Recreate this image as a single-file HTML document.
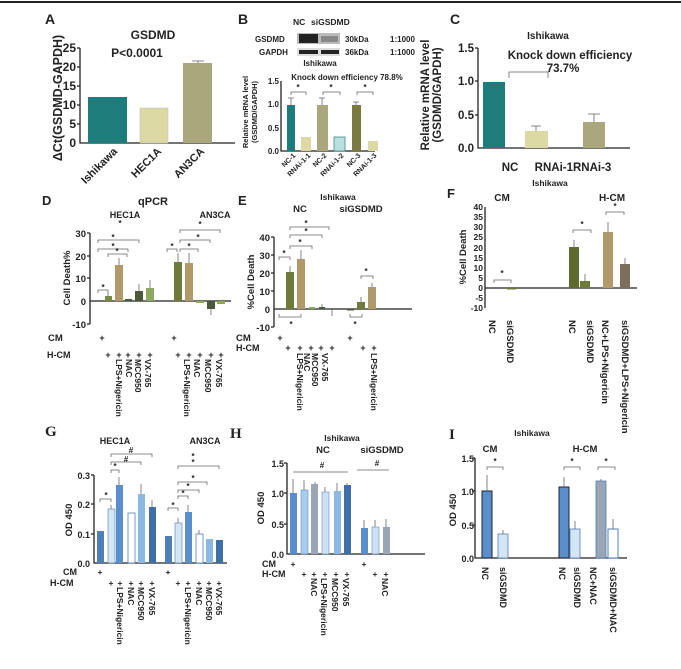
<!DOCTYPE html>
<html><head><meta charset="utf-8"><style>
html,body{margin:0;padding:0;background:#fff}
svg{display:block}
text{font-family:"Liberation Sans",Arial,sans-serif;font-weight:bold;fill:#222}
.ax{stroke:#222;stroke-width:1.3;fill:none}
.br{stroke:#666;stroke-width:0.8;fill:none}
</style></head><body>
<svg width="681" height="669" viewBox="0 0 681 669" xmlns="http://www.w3.org/2000/svg">
<line x1="0" y1="2" x2="681" y2="2" stroke="#222" stroke-width="2"/>

<!-- Panel A -->
<text x="45" y="24" font-size="14">A</text>
<text x="153" y="39" font-size="12" text-anchor="middle">GSDMD</text>
<text x="137" y="57" font-size="12" text-anchor="middle">P&lt;0.0001</text>
<text transform="translate(62,98) rotate(-90)" font-size="12.5" text-anchor="middle">ΔCt(GSDMD-GAPDH)</text>
<path class="ax" d="M80,48V143H235"/>
<path class="ax" d="M77,48h3M77,67h3M77,86h3M77,105h3M77,124h3"/>
<g font-size="12" text-anchor="end">
<text x="76" y="52">25</text><text x="76" y="71">20</text><text x="76" y="90">15</text><text x="76" y="109">10</text><text x="76" y="128">5</text><text x="76" y="147">0</text></g>
<rect x="88" y="97" width="39" height="46" fill="#1e7c7b"/>
<rect x="140" y="108" width="28" height="35" fill="#dcd9a4" stroke="#bbb" stroke-width=".5"/>
<rect x="183" y="63" width="29" height="80" fill="#aaa77c"/>
<path class="br" d="M192,61h12M198,61v2"/>
<g font-size="11">
<text transform="translate(118,152) rotate(-45)" text-anchor="end">Ishikawa</text>
<text transform="translate(162,152) rotate(-45)" text-anchor="end">HEC1A</text>
<text transform="translate(205,152) rotate(-45)" text-anchor="end">AN3CA</text></g>

<!-- Panel B -->
<text x="238" y="24" font-size="14">B</text>
<text x="293" y="25" font-size="8.5">NC</text><text x="311" y="25" font-size="8.5">siGSDMD</text>
<text x="255" y="42" font-size="8">GSDMD</text><text x="259" y="55" font-size="8">GAPDH</text>
<rect x="297" y="33" width="43" height="11" fill="#bbb"/>
<rect x="299" y="34" width="19" height="9" fill="#222"/><rect x="321" y="36" width="17" height="6" fill="#888"/>
<rect x="297" y="48" width="43" height="8" fill="#ddd"/>
<rect x="299" y="50" width="19" height="4" fill="#222"/><rect x="321" y="50" width="18" height="4" fill="#222"/>
<text x="345" y="42" font-size="8">30kDa</text><text x="345" y="55" font-size="8">36kDa</text>
<text x="390" y="42" font-size="8">1:1000</text><text x="390" y="55" font-size="8">1:1000</text>
<text x="320" y="66" font-size="8" text-anchor="middle">Ishikawa</text>
<text x="347" y="80" font-size="8" text-anchor="middle">Knock down efficiency 78.8%</text>
<text transform="translate(248,112) rotate(-90)" font-size="7.5" text-anchor="middle">Relative mRNA level</text>
<text transform="translate(257,112) rotate(-90)" font-size="7.5" text-anchor="middle">(GSDMD/GAPDH)</text>
<path class="ax" d="M281,81V151H375"/>
<g font-size="8" text-anchor="end"><text x="279" y="84">1.5</text><text x="279" y="107">1.0</text><text x="279" y="131">0.5</text><text x="279" y="154">0.0</text></g>
<rect x="287" y="105" width="8" height="46" fill="#1e7c7b"/>
<rect x="301" y="137" width="10" height="14" fill="#dcd9a4"/>
<rect x="317" y="105" width="11" height="46" fill="#aaa77c"/>
<rect x="334" y="137" width="11" height="14" fill="#b8e0e0" stroke="#3a8a8a" stroke-width=".8"/>
<rect x="352" y="105" width="9" height="46" fill="#7a7a40"/>
<rect x="368" y="141" width="10" height="10" fill="#dcd9a4"/>
<path class="br" d="M291,105v-7M288,98h6M322,105v-7M319,98h6M356,105v-3M353,102h6"/>
<path class="br" d="M291,95v-3h15v3M323,95v-3h17v3M357,95v-3h16v3"/>
<g font-size="8" text-anchor="middle"><text x="298" y="90">*</text><text x="331" y="90">*</text><text x="365" y="90">*</text></g>
<g font-size="7" text-anchor="end">
<text transform="translate(296,156) rotate(-45)">NC-1</text><text transform="translate(311,156) rotate(-45)">RNAi-1-1</text>
<text transform="translate(327,156) rotate(-45)">NC-2</text><text transform="translate(344,156) rotate(-45)">RNAi-1-2</text>
<text transform="translate(361,156) rotate(-45)">NC-3</text><text transform="translate(377,156) rotate(-45)">RNAi-1-3</text></g>

<!-- Panel C -->
<text x="450" y="24" font-size="14">C</text>
<text x="548" y="39" font-size="10" text-anchor="middle">Ishikawa</text>
<text x="570" y="59" font-size="11.5" text-anchor="middle">Knock down efficiency</text>
<text x="563" y="72" font-size="11.5" text-anchor="middle">73.7%</text>
<text transform="translate(429,95) rotate(-90)" font-size="11.5" text-anchor="middle">Relative mRNA level</text>
<text transform="translate(441,95) rotate(-90)" font-size="11.5" text-anchor="middle">(GSDMD/GAPDH)</text>
<path class="ax" d="M478,48V148H630"/>
<path class="ax" d="M475,48h3M475,81h3M475,115h3"/>
<g font-size="11.5" text-anchor="end"><text x="474" y="52">1.5</text><text x="474" y="85">1.0</text><text x="474" y="119">0.5</text><text x="474" y="152">0.0</text></g>
<path class="br" d="M509,78v-6h39v6"/>
<rect x="483" y="82" width="22" height="66" fill="#1e7c7b"/>
<rect x="525" y="131" width="23" height="17" fill="#dcd9a4"/>
<rect x="583" y="122" width="22" height="26" fill="#aaa77c"/>
<path class="br" d="M536,131v-5M531,126h10M594,122v-8M588,114h12"/>
<text x="510" y="171" font-size="11.5" text-anchor="middle">NC</text>
<text x="573" y="171" font-size="11.5" text-anchor="middle">RNAi-1RNAi-3</text>

<!-- Panel D -->
<text x="42" y="205" font-size="13">D</text>
<text x="153" y="205" font-size="11" text-anchor="middle">qPCR</text>
<text x="125" y="218" font-size="9" text-anchor="middle">HEC1A</text>
<text x="215" y="218" font-size="9" text-anchor="middle">AN3CA</text>
<text transform="translate(70,278) rotate(-90)" font-size="9.5" text-anchor="middle">Cell Death%</text>
<path class="ax" d="M90,233V324M90,301H231"/>
<path class="ax" d="M87,233h3M87,256h3M87,278h3M87,324h3"/>
<g font-size="9.5" text-anchor="end"><text x="86" y="237">30</text><text x="86" y="260">20</text><text x="86" y="282">10</text><text x="86" y="305">0</text><text x="86" y="328">-10</text></g>
<rect x="105" y="296" width="7" height="5" fill="#7a8a45"/>
<rect x="115" y="265" width="8" height="36" fill="#b09a6a"/>
<rect x="125" y="299" width="7" height="2" fill="#4b5a3a"/>
<rect x="135" y="291" width="8" height="10" fill="#4b5a3a"/>
<rect x="146" y="288" width="8" height="13" fill="#8fa860"/>
<rect x="174" y="262" width="8" height="39" fill="#6e7a3a"/>
<rect x="185" y="263" width="8" height="38" fill="#b09a6a"/>
<rect x="196" y="301" width="8" height="2" fill="#8fa860"/>
<rect x="207" y="301" width="8" height="8" fill="#4b5a3a"/>
<rect x="217" y="301" width="8" height="3" fill="#8fa860"/>
<path class="br" d="M108,296v-3M119,265v-7M139,291v-7M150,288v-8M178,262v-9M189,263v-10M211,309v6"/>
<path class="br" d="M98,293v-3h10v3M108,257v-3h19v3M98,252v-3h30v3M98,243v-3h41v3M167,252v-3h10v3M180,252v-3h18v3M180,243v-3h30v3M180,233v-3h40v3"/>
<g font-size="8" text-anchor="middle"><text x="103" y="290">*</text><text x="117" y="254">*</text><text x="113" y="249">*</text><text x="113" y="240">*</text><text x="120" y="226">*</text><text x="172" y="249">*</text><text x="189" y="249">*</text><text x="198" y="240">*</text><text x="200" y="227">*</text></g>
<text x="48" y="341" font-size="9.5">CM</text><text x="47" y="358" font-size="9">H-CM</text>
<g font-size="9" text-anchor="middle"><text x="102" y="341">+</text><text x="174" y="341">+</text>
<text x="108" y="358">+</text><text x="119" y="358">+</text><text x="128" y="358">+</text><text x="139" y="358">+</text><text x="150" y="358">+</text>
<text x="178" y="358">+</text><text x="189" y="358">+</text><text x="200" y="358">+</text><text x="211" y="358">+</text><text x="221" y="358">+</text></g>
<g font-size="8.5">
<text transform="translate(116,359) rotate(90)">LPS+Nigericin</text><text transform="translate(126,359) rotate(90)">NAC</text><text transform="translate(135,359) rotate(90)">MCC950</text><text transform="translate(145,359) rotate(90)">VX-765</text>
<text transform="translate(184,359) rotate(90)">LPS+Nigericin</text><text transform="translate(194,359) rotate(90)">NAC</text><text transform="translate(205,359) rotate(90)">MCC950</text><text transform="translate(216,359) rotate(90)">VX-765</text></g>

<!-- Panel E -->
<text x="238" y="205" font-size="13">E</text>
<text x="338" y="200" font-size="8.5" text-anchor="middle">Ishikawa</text>
<text x="300" y="212" font-size="9.5" text-anchor="middle">NC</text>
<text x="361" y="212" font-size="9.5" text-anchor="middle">siGSDMD</text>
<text transform="translate(254,282) rotate(-90)" font-size="9.5" text-anchor="middle">%Cell Death</text>
<path class="ax" d="M274,237V327M274,309H412"/>
<path class="ax" d="M271,237h3M271,255h3M271,273h3M271,291h3M271,327h3"/>
<g font-size="9.5" text-anchor="end"><text x="270" y="241">40</text><text x="270" y="259">30</text><text x="270" y="277">20</text><text x="270" y="295">10</text><text x="270" y="313">0</text><text x="270" y="331">-10</text></g>
<rect x="286" y="272" width="8" height="37" fill="#6e7a3a"/>
<rect x="297" y="259" width="8" height="50" fill="#b09a6a"/>
<rect x="309" y="307" width="6" height="2" fill="#8fa860"/>
<rect x="319" y="307" width="6" height="2" fill="#4b5a3a"/>
<rect x="347" y="309" width="7" height="1.5" fill="#4b5a3a"/>
<rect x="357" y="302" width="8" height="7" fill="#6e7a3a"/>
<rect x="368" y="287" width="8" height="22" fill="#b09a6a"/>
<path class="br" d="M290,272v-6M301,259v-9M322,307v-3M332,309v7M361,302v-5M372,287v-4"/>
<path class="br" d="M279,260v-3h11v3M290,249v-3h22v3M290,238v-3h32v3M290,230v-3h39v3M279,314v3h22v-3M350,314v3h12v-3M361,279v-3h12v3"/>
<g font-size="8" text-anchor="middle"><text x="284" y="256">*</text><text x="300" y="245">*</text><text x="306" y="234">*</text><text x="306" y="226">*</text><text x="291" y="327">*</text><text x="355" y="327">*</text><text x="366" y="274">*</text></g>
<text x="236" y="341" font-size="9.5">CM</text><text x="236" y="351" font-size="9">H-CM</text>
<g font-size="9" text-anchor="middle"><text x="280" y="341">+</text><text x="350" y="341">+</text>
<text x="288" y="351">+</text><text x="300" y="351">+</text><text x="311" y="351">+</text><text x="321" y="351">+</text><text x="332" y="351">+</text><text x="363" y="351">+</text><text x="374" y="351">+</text></g>
<g font-size="8.5">
<text transform="translate(297,353) rotate(90)">LPS+Nigericin</text><text transform="translate(304,353) rotate(90)">NAC</text><text transform="translate(312,353) rotate(90)">MCC950</text><text transform="translate(322,353) rotate(90)">VX-765</text>
<text transform="translate(371,353) rotate(90)">LPS+Nigericin</text></g>

<!-- Panel F -->
<text x="447" y="198" font-size="13">F</text>
<text x="550" y="186" font-size="8.5" text-anchor="middle">Ishikawa</text>
<text x="502" y="201" font-size="10" text-anchor="middle">CM</text>
<text x="612" y="201" font-size="10" text-anchor="middle">H-CM</text>
<text transform="translate(466,257) rotate(-90)" font-size="9.5" text-anchor="middle">%Cell Death</text>
<path class="ax" d="M485,207V308M485,288H637"/>
<g font-size="8.5" text-anchor="end">
<text x="483" y="210">40</text><text x="483" y="220">35</text><text x="483" y="230">30</text><text x="483" y="240">25</text><text x="483" y="251">20</text><text x="483" y="261">15</text><text x="483" y="271">10</text><text x="483" y="281">5</text><text x="483" y="291">0</text><text x="483" y="301">-5</text><text x="483" y="311">-10</text></g>
<rect x="507" y="288" width="9" height="1.5" fill="#6e7a3a"/>
<rect x="569" y="247" width="10" height="41" fill="#5e6b30"/>
<rect x="580" y="281" width="10" height="7" fill="#6e7a3a"/>
<rect x="603" y="232" width="10" height="56" fill="#b09a6a"/>
<rect x="620" y="264" width="10" height="24" fill="#7c6e5a"/>
<path class="br" d="M574,247v-7M585,281v-7M608,232v-10M625,264v-6"/>
<path class="br" d="M494,283v-3h17v3M573,233v-3h18v3M606,215v-3h18v3"/>
<g font-size="8" text-anchor="middle"><text x="502" y="276">*</text><text x="582" y="227">*</text><text x="615" y="209">*</text></g>
<g font-size="9.5">
<text transform="translate(489,320) rotate(90)">NC</text><text transform="translate(507,320) rotate(90)">siGSDMD</text>
<text transform="translate(569,320) rotate(90)">NC</text><text transform="translate(587,320) rotate(90)">siGSDMD</text>
<text transform="translate(602,320) rotate(90)">NC+LPS+Nigericin</text><text transform="translate(622,320) rotate(90)">siGSDMD+LPS+Nigericin</text></g>

<!-- Panel G -->
<text x="45" y="436" font-size="15" style="font-family:'Liberation Serif',serif">G</text>
<text x="115" y="444" font-size="9" text-anchor="middle">HEC1A</text>
<text x="205" y="444" font-size="9" text-anchor="middle">AN3CA</text>
<text transform="translate(72,520) rotate(-90)" font-size="9.5" text-anchor="middle">OD 450</text>
<path class="ax" d="M94,475V563H227"/>
<path class="ax" d="M91,475h3M91,504h3M91,534h3"/>
<g font-size="9" text-anchor="end"><text x="90" y="479">0.3</text><text x="90" y="508">0.2</text><text x="90" y="538">0.1</text><text x="90" y="567">0.0</text></g>
<rect x="97" y="531" width="7" height="32" fill="#4f7fb6"/>
<rect x="108" y="509" width="7" height="54" fill="#d4e5f6" stroke="#4f7fb6" stroke-width=".6"/>
<rect x="116" y="485" width="7" height="78" fill="#5b8fcc"/>
<rect x="128" y="513" width="7" height="50" fill="#fff" stroke="#4f7fb6" stroke-width=".8"/>
<rect x="138" y="494" width="7" height="69" fill="#8cb8e4"/>
<rect x="149" y="507" width="7" height="56" fill="#3f6fa8"/>
<rect x="165" y="536" width="7" height="27" fill="#4f7fb6"/>
<rect x="175" y="523" width="7" height="40" fill="#d4e5f6" stroke="#4f7fb6" stroke-width=".6"/>
<rect x="185" y="512" width="7" height="51" fill="#5b8fcc"/>
<rect x="196" y="534" width="7" height="29" fill="#fff" stroke="#4f7fb6" stroke-width=".8"/>
<rect x="206" y="539" width="7" height="24" fill="#8cb8e4"/>
<rect x="216" y="540" width="7" height="23" fill="#3f6fa8"/>
<path class="br" d="M111,509v-4M119,485v-8M141,494v-10M152,507v-7M178,523v-5M188,512v-7M199,534v-4"/>
<path class="br" d="M100,502v-3h11v3M111,473v-3h8v3M111,465v-3h30v3M111,457v-3h41v3M168,511v-3h10v3M178,499v-3h10v3M178,493v-3h21v3M178,485v-3h29v3M178,469v-3h41v3"/>
<g font-size="8" text-anchor="middle"><text x="106" y="498">*</text><text x="115" y="469">*</text><text x="126" y="462">#</text><text x="131" y="453">#</text><text x="173" y="508">*</text><text x="183" y="496">*</text><text x="188" y="489">*</text><text x="193" y="481">*</text><text x="193" y="465">*</text><text x="193" y="459">*</text></g>
<text x="63" y="575" font-size="9">CM</text><text x="50" y="586" font-size="9">H-CM</text>
<g font-size="8.5" text-anchor="middle"><text x="100" y="575">+</text><text x="168" y="575">+</text>
<text x="111" y="586">+</text><text x="120" y="586">+</text><text x="131" y="586">+</text><text x="141" y="586">+</text><text x="152" y="586">+</text>
<text x="178" y="586">+</text><text x="188" y="586">+</text><text x="199" y="586">+</text><text x="209" y="586">+</text><text x="219" y="586">+</text></g>
<g font-size="8.5">
<text transform="translate(117,587) rotate(90)">LPS+Nigericin</text><text transform="translate(128,587) rotate(90)">NAC</text><text transform="translate(138,587) rotate(90)">MCC950</text><text transform="translate(149,587) rotate(90)">VX-765</text>
<text transform="translate(185,587) rotate(90)">LPS+Nigericin</text><text transform="translate(196,587) rotate(90)">NAC</text><text transform="translate(206,587) rotate(90)">MCC950</text><text transform="translate(216,587) rotate(90)">VX-765</text></g>

<!-- Panel H -->
<text x="230" y="438" font-size="15" style="font-family:'Liberation Serif',serif">H</text>
<text x="342" y="441" font-size="8.5" text-anchor="middle">Ishikawa</text>
<text x="323" y="453" font-size="9.5" text-anchor="middle">NC</text>
<text x="382" y="453" font-size="9.5" text-anchor="middle">siGSDMD</text>
<text transform="translate(264,508) rotate(-90)" font-size="9.5" text-anchor="middle">OD 450</text>
<path class="ax" d="M287,463V554H425"/>
<path class="ax" d="M284,463h3M284,493h3M284,524h3"/>
<g font-size="9" text-anchor="end"><text x="284" y="467">1.5</text><text x="284" y="497">1.0</text><text x="284" y="528">0.5</text><text x="284" y="558">0.0</text></g>
<path class="br" d="M293,472h55M357,470h32"/>
<g font-size="8" text-anchor="middle"><text x="322" y="468">#</text><text x="377" y="466">#</text></g>
<rect x="290" y="493" width="7" height="61" fill="#5b8fcc"/>
<rect x="301" y="490" width="7" height="64" fill="#a8ccef" stroke="#4f7fb6" stroke-width=".5"/>
<rect x="311" y="484" width="7" height="70" fill="#9aa5b5"/>
<rect x="322" y="492" width="7" height="62" fill="#cde0f4" stroke="#4f7fb6" stroke-width=".5"/>
<rect x="334" y="491" width="7" height="63" fill="#8cb8e4"/>
<rect x="344" y="485" width="7" height="69" fill="#3f6fa8"/>
<rect x="361" y="528" width="7" height="26" fill="#5b8fcc"/>
<rect x="372" y="527" width="7" height="27" fill="#cde0f4" stroke="#4f7fb6" stroke-width=".5"/>
<rect x="383" y="527" width="7" height="27" fill="#9aa5b5"/>
<path class="br" d="M293,493v-14M304,490v-10M315,484v-2M325,492v-5M337,491v-8M347,485v-2M364,528v-8M375,527v-7M386,527v-8"/>
<text x="262" y="567" font-size="9">CM</text><text x="262" y="577" font-size="9">H-CM</text>
<g font-size="8.5" text-anchor="middle"><text x="293" y="567">+</text><text x="364" y="567">+</text>
<text x="304" y="577">+</text><text x="314" y="577">+</text><text x="325" y="577">+</text><text x="336" y="577">+</text><text x="347" y="577">+</text><text x="375" y="577">+</text><text x="386" y="577">+</text></g>
<g font-size="8.5">
<text transform="translate(311,578) rotate(90)">NAC</text><text transform="translate(321,578) rotate(90)">LPS+Nigericin</text><text transform="translate(332,578) rotate(90)">MCC950</text><text transform="translate(343,578) rotate(90)">VX-765</text><text transform="translate(382,578) rotate(90)">NAC</text></g>

<!-- Panel I -->
<text x="449" y="439" font-size="15" style="font-family:'Liberation Serif',serif">I</text>
<text x="532" y="436" font-size="8.5" text-anchor="middle">Ishikawa</text>
<text x="490" y="452" font-size="9.5" text-anchor="middle">CM</text>
<text x="585" y="452" font-size="9.5" text-anchor="middle">H-CM</text>
<text transform="translate(456,510) rotate(-90)" font-size="9.5" text-anchor="middle">OD 450</text>
<path class="ax" d="M475,458V558H627"/>
<path class="ax" d="M472,458h3M472,491h3M472,525h3"/>
<g font-size="9" text-anchor="end"><text x="474" y="462">1.5</text><text x="474" y="495">1.0</text><text x="474" y="529">0.5</text><text x="474" y="562">0.0</text></g>
<rect x="482" y="491" width="10" height="67" fill="#5b8fcc" stroke="#223" stroke-width="1"/>
<rect x="498" y="534" width="10" height="24" fill="#d4e5f6" stroke="#4f7fb6" stroke-width=".8"/>
<rect x="559" y="487" width="10" height="71" fill="#5b8fcc" stroke="#223" stroke-width="1"/>
<rect x="570" y="529" width="10" height="29" fill="#d4e5f6" stroke="#4f7fb6" stroke-width=".8"/>
<rect x="596" y="481" width="10" height="77" fill="#9aa5b5" stroke="#4f7fb6" stroke-width=".8"/>
<rect x="608" y="529" width="10" height="29" fill="#fff" stroke="#4f7fb6" stroke-width="1"/>
<path class="br" d="M487,491v-16M503,534v-4M564,487v-10M575,529v-8M601,481v-2M613,529v-10"/>
<path class="br" d="M487,470v-3h16v3M564,470v-3h16v3M598,470v-3h17v3"/>
<g font-size="8" text-anchor="middle"><text x="495" y="464">*</text><text x="572" y="464">*</text><text x="606" y="464">*</text></g>
<g font-size="9">
<text transform="translate(482,567) rotate(90)">NC</text><text transform="translate(500,567) rotate(90)">siGSDMD</text>
<text transform="translate(559,567) rotate(90)">NC</text><text transform="translate(574,567) rotate(90)">siGSDMD</text>
<text transform="translate(590,567) rotate(90)">NC+NAC</text><text transform="translate(610,567) rotate(90)">siGSDMD+NAC</text></g>
</svg>
</body></html>
